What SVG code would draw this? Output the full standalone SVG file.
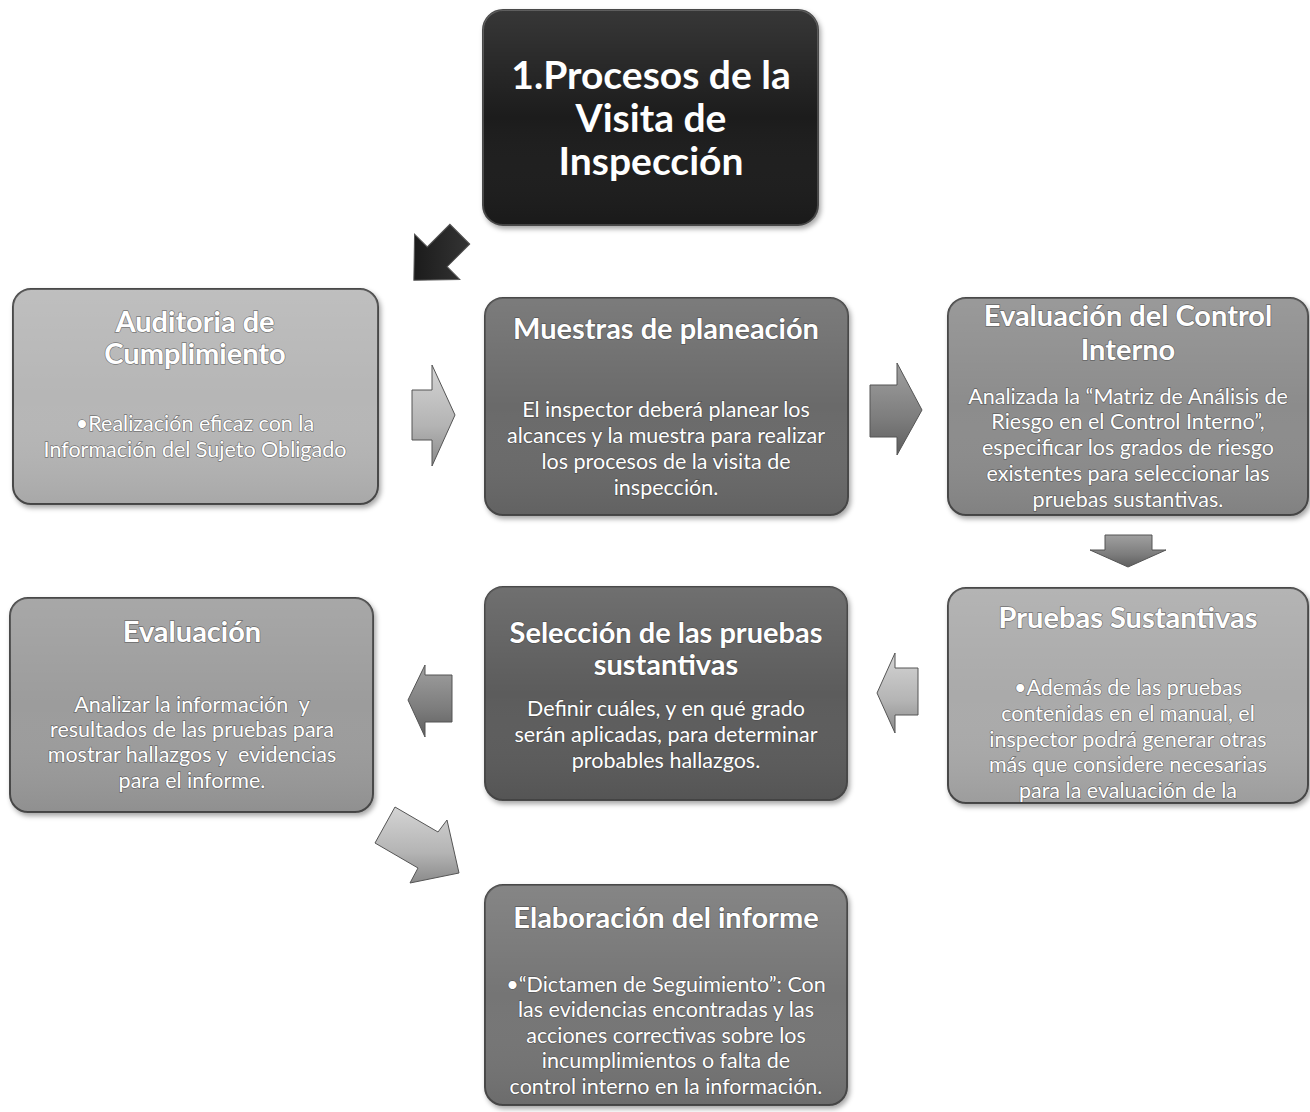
<svg xmlns="http://www.w3.org/2000/svg" width="1310" height="1112" viewBox="0 0 1310 1112">
<defs>
<filter id="sh" x="-10%" y="-10%" width="120%" height="125%">
<feDropShadow dx="2" dy="3" stdDeviation="2.5" flood-color="#000" flood-opacity="0.35"/>
</filter>
<linearGradient id="gLight" x1="0" y1="0" x2="0" y2="1">
<stop offset="0" stop-color="#d4d4d4"/><stop offset="0.6" stop-color="#b4b4b4"/><stop offset="1" stop-color="#8a8a8a"/>
</linearGradient>
<linearGradient id="gMid" x1="0" y1="0" x2="0" y2="1">
<stop offset="0" stop-color="#a0a0a0"/><stop offset="0.6" stop-color="#7d7d7d"/><stop offset="1" stop-color="#5e5e5e"/>
</linearGradient>
<linearGradient id="gDark" x1="0" y1="0" x2="1" y2="1">
<stop offset="0" stop-color="#3a3a3a"/><stop offset="1" stop-color="#111"/>
</linearGradient>
<linearGradient id="boxSheen" x1="0" y1="0" x2="0" y2="1">
<stop offset="0" stop-color="#fff" stop-opacity="0.12"/><stop offset="0.5" stop-color="#fff" stop-opacity="0"/><stop offset="1" stop-color="#000" stop-opacity="0.08"/>
</linearGradient>
</defs>
<style>
.box{stroke:#4a4a4a;stroke-width:2;filter:url(#sh)}
.sheen{fill:url(#boxSheen);stroke:none}
.t{font-family:Lato,"Liberation Sans",sans-serif;fill:#fff;text-anchor:middle;paint-order:stroke;stroke:#3c3c3c;stroke-opacity:0.55;stroke-width:1.4;white-space:pre}
.title{font-weight:bold;font-size:29px}
.body{font-size:21.5px}
.big{font-weight:bold;font-size:39px;stroke:none}
.arr{stroke:#555;stroke-width:1}
</style>
<rect width="1310" height="1112" fill="#fff"/>

<g id="connectors">
<polygon class="arr" fill="url(#gDark)" points="-28,-14 4,-14 4,-32 37,0 4,32 4,14 -28,14" transform="translate(440,254) rotate(135)"/>
<polygon class="arr" fill="url(#gLight)" points="412,390 432,390 432,365 455,415 432,466 432,440 412,440"/>
<polygon class="arr" fill="url(#gMid)" points="870,385 897,385 897,363 922,410 897,455 897,437 870,437"/>
<polygon class="arr" fill="url(#gMid)" points="1105,535 1152,535 1152,550 1166,550 1128,567 1090,550 1105,550"/>
<polygon class="arr" fill="url(#gMid)" points="452,675 425,675 425,665 408,700 425,737 425,722 452,722"/>
<polygon class="arr" fill="url(#gLight)" points="918,668 895,668 895,653 877,693 895,733 895,715 918,715"/>
<polygon class="arr" fill="url(#gLight)" points="395,807 438,832 447,820 459,873 410,883 418,868 375,843"/>
</g>

<g id="n-top">
<rect class="box" x="483" y="10" width="335" height="215" rx="20" fill="#1c1c1c"/>
<rect class="sheen" x="483" y="10" width="335" height="215" rx="20"/>
<text class="t big" x="651" y="89">1.Procesos de la</text>
<text class="t big" x="651" y="132">Visita de</text>
<text class="t big" x="651" y="175">Inspección</text>
</g>

<g id="n-auditoria">
<rect class="box" x="13" y="289" width="365" height="215" rx="18" fill="#b6b6b6"/>
<rect class="sheen" x="13" y="289" width="365" height="215" rx="18"/>
<text class="t title" x="195" y="332">Auditoria de</text>
<text class="t title" x="195" y="364">Cumplimiento</text>
<text class="t body" x="195" y="431">•Realización eficaz con la</text>
<text class="t body" x="195" y="457">Información del Sujeto Obligado</text>
</g>

<g id="n-muestras">
<rect class="box" x="485" y="298" width="363" height="217" rx="18" fill="#6b6b6b"/>
<rect class="sheen" x="485" y="298" width="363" height="217" rx="18"/>
<text class="t title" x="666" y="339">Muestras de planeación</text>
<text class="t body" x="666" y="417">El inspector deberá planear los</text>
<text class="t body" x="666" y="443">alcances y la muestra para realizar</text>
<text class="t body" x="666" y="469">los procesos de la visita de</text>
<text class="t body" x="666" y="495">inspección.</text>
</g>

<g id="n-control">
<rect class="box" x="948" y="298" width="360" height="217" rx="18" fill="#8c8c8c"/>
<rect class="sheen" x="948" y="298" width="360" height="217" rx="18"/>
<text class="t title" x="1128" y="326">Evaluación del Control</text>
<text class="t title" x="1128" y="360">Interno</text>
<text class="t body" x="1128" y="404">Analizada la “Matriz de Análisis de</text>
<text class="t body" x="1128" y="429">Riesgo en el Control Interno”,</text>
<text class="t body" x="1128" y="455">especificar los grados de riesgo</text>
<text class="t body" x="1128" y="481">existentes para seleccionar las</text>
<text class="t body" x="1128" y="507">pruebas sustantivas.</text>
</g>

<g id="n-evaluacion">
<rect class="box" x="10" y="598" width="363" height="214" rx="18" fill="#9c9c9c"/>
<rect class="sheen" x="10" y="598" width="363" height="214" rx="18"/>
<text class="t title" x="192" y="642">Evaluación</text>
<text class="t body" x="192" y="712">Analizar la información  y</text>
<text class="t body" x="192" y="737">resultados de las pruebas para</text>
<text class="t body" x="192" y="762">mostrar hallazgos y  evidencias</text>
<text class="t body" x="192" y="788">para el informe.</text>
</g>

<g id="n-seleccion">
<rect class="box" x="485" y="587" width="362" height="213" rx="18" fill="#5c5c5c"/>
<rect class="sheen" x="485" y="587" width="362" height="213" rx="18"/>
<text class="t title" x="666" y="643">Selección de las pruebas</text>
<text class="t title" x="666" y="675">sustantivas</text>
<text class="t body" x="666" y="716">Definir cuáles, y en qué grado</text>
<text class="t body" x="666" y="742">serán aplicadas, para determinar</text>
<text class="t body" x="666" y="768">probables hallazgos.</text>
</g>

<g id="n-pruebas">
<rect class="box" x="948" y="588" width="360" height="215" rx="18" fill="#aaaaaa"/>
<rect class="sheen" x="948" y="588" width="360" height="215" rx="18"/>
<text class="t title" x="1128" y="628">Pruebas Sustantivas</text>
<text class="t body" x="1128" y="695">•Además de las pruebas</text>
<text class="t body" x="1128" y="721">contenidas en el manual, el</text>
<text class="t body" x="1128" y="747">inspector podrá generar otras</text>
<text class="t body" x="1128" y="772">más que considere necesarias</text>
<text class="t body" x="1128" y="798">para la evaluación de la</text>
</g>

<g id="n-elaboracion">
<rect class="box" x="485" y="885" width="362" height="220" rx="18" fill="#747474"/>
<rect class="sheen" x="485" y="885" width="362" height="220" rx="18"/>
<text class="t title" x="666" y="928">Elaboración del informe</text>
<text class="t body" x="666" y="992">•“Dictamen de Seguimiento”: Con</text>
<text class="t body" x="666" y="1017">las evidencias encontradas y las</text>
<text class="t body" x="666" y="1043">acciones correctivas sobre los</text>
<text class="t body" x="666" y="1068">incumplimientos o falta de</text>
<text class="t body" x="666" y="1094">control interno en la información.</text>
</g>
</svg>
